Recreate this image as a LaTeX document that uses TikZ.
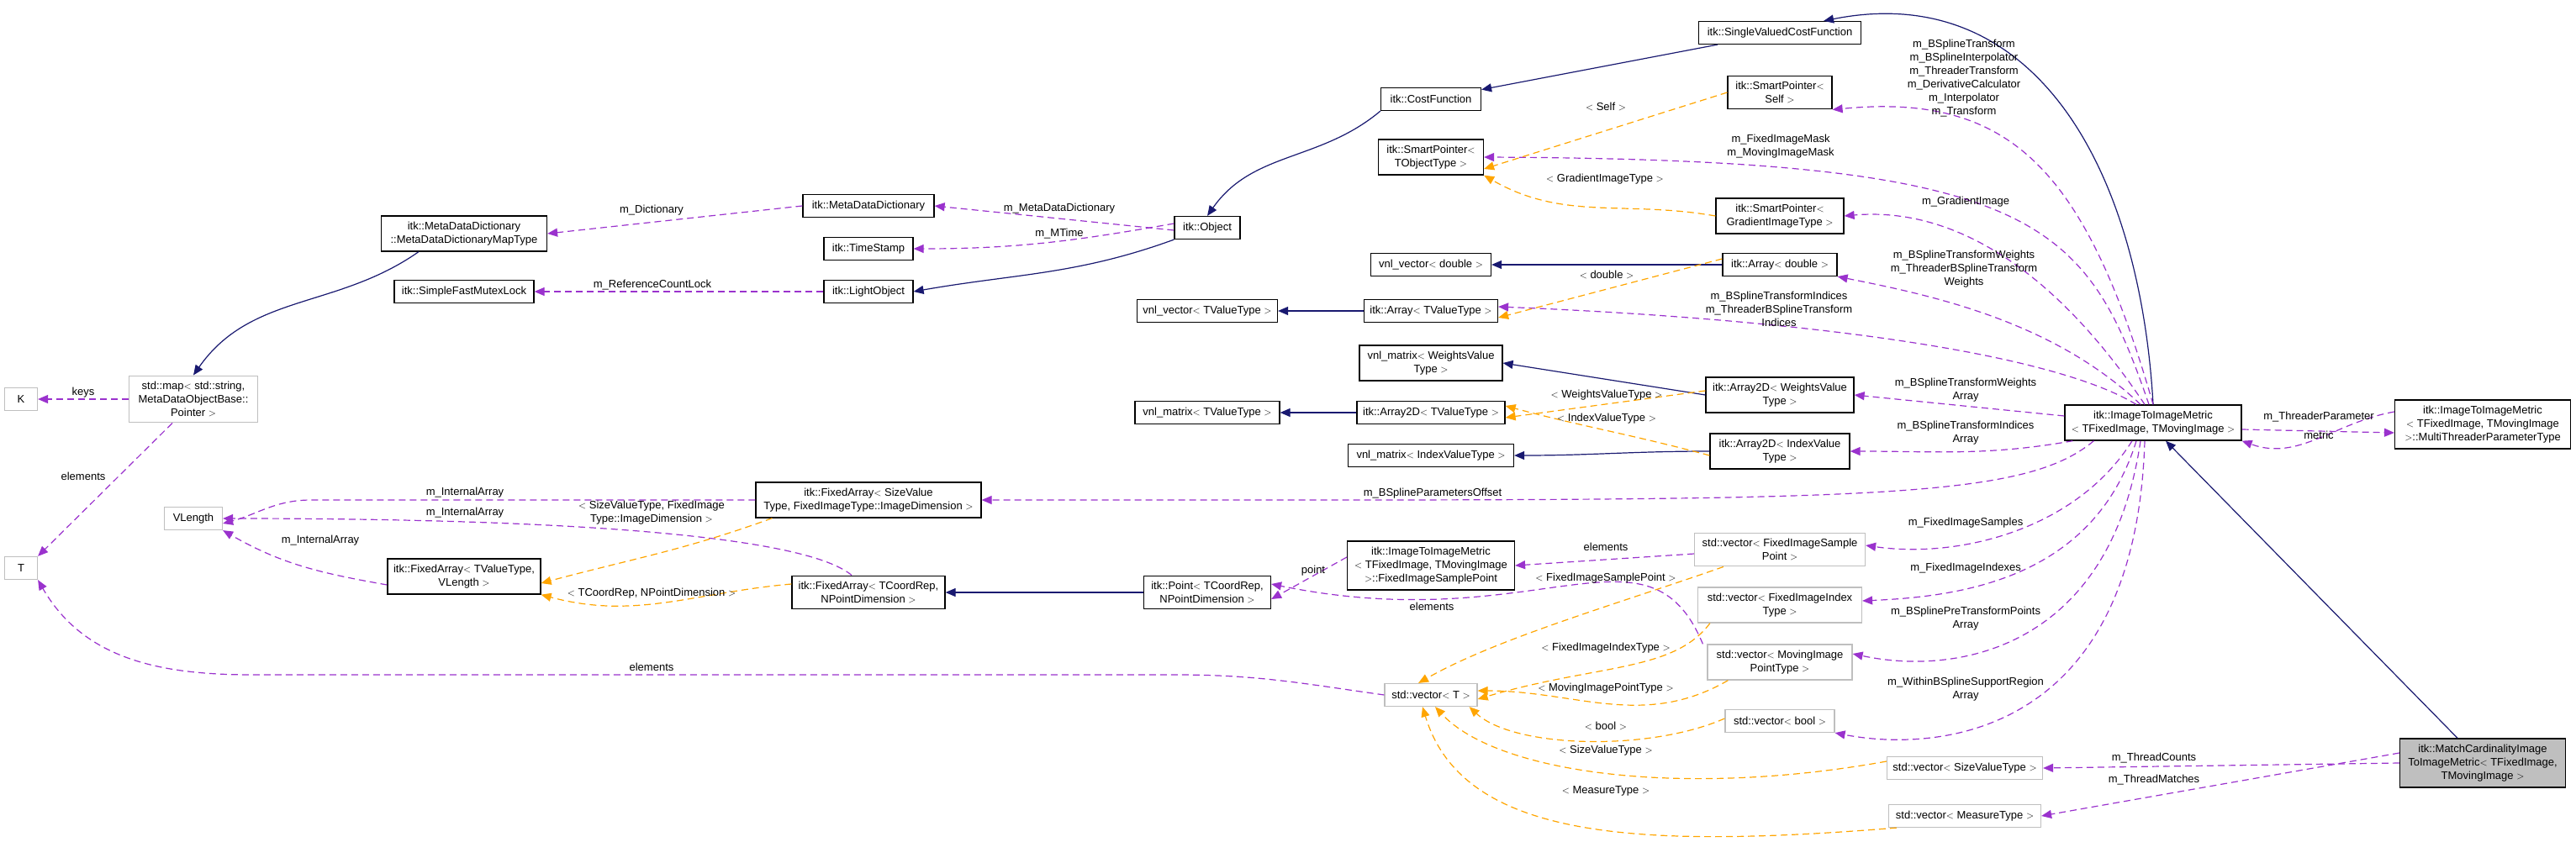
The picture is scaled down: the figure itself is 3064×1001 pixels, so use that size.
\documentclass[tikz,border=0pt]{standalone}
\usepackage{fontspec}
\setmainfont{Liberation Sans}
\usetikzlibrary{arrows.meta}
\definecolor{inhcol}{HTML}{191970}
\definecolor{usecol}{HTML}{9A32CD}
\definecolor{tplcol}{HTML}{FFA500}
\definecolor{extcol}{HTML}{BFBFBF}

\begin{document}
\begin{tikzpicture}[x=1pt,y=-1pt,
    font=\fontsize{13}{16}\selectfont,
    cls/.style={draw=black, line width=1.2pt, fill=white, align=center, inner xsep=4pt, inner ysep=7pt, minimum height=27pt},
    ext/.style={cls, draw=extcol},
    inh/.style={draw=inhcol, line width=1.2pt, -{Triangle[length=12pt,width=10pt]}},
    use/.style={draw=usecol, line width=1.2pt, dash pattern=on 8pt off 5pt, -{Triangle[length=12pt,width=10pt]}},
    tpl/.style={draw=tplcol, line width=1.2pt, dash pattern=on 8pt off 5pt, -{Triangle[length=12pt,width=10pt]}},
    lbl/.style={align=center, inner sep=0pt}]

    \useasboundingbox (0,0) rectangle (3064,1001);

    % left part
    \node[cls, minimum width=197pt] (mtype) at (552,278) {itk::MetaDataDictionary\\::MetaDataDictionaryMapType};
    \node[cls, minimum width=156pt] (mdd) at (1033,245) {itk::MetaDataDictionary};
    \node[cls, minimum width=106pt] (ts) at (1033,296) {itk::TimeStamp};
    \node[cls, minimum width=106pt] (light) at (1033,347) {itk::LightObject};
    \node[cls, minimum width=166pt] (mutex) at (552,347) {itk::SimpleFastMutexLock};
    \node[cls, minimum width=78pt] (obj) at (1436,271) {itk::Object};
    \node[cls, minimum width=167pt] (vvt) at (1436,370) {vnl\_vector$<$ TValueType $>$};
    \node[cls, minimum width=172pt] (vmt) at (1436,491) {vnl\_matrix$<$ TValueType $>$};
    \node[ext, minimum width=153pt] (map) at (230,475) {std::map$<$ std::string,\\MetaDataObjectBase::\\Pointer $>$};
    \node[ext, minimum width=39pt] (k) at (25,475) {K};
    \node[ext, minimum width=39pt] (t) at (25,676) {T};
    \node[ext, minimum width=69pt] (vlen) at (230,617) {VLength};
    \node[cls, minimum width=268pt] (fasz) at (1033,595) {itk::FixedArray$<$ SizeValue\\Type, FixedImageType::ImageDimension $>$};
    \node[cls, minimum width=182pt] (fatv) at (552,686) {itk::FixedArray$<$ TValueType,\\VLength $>$};
    \node[cls, minimum width=182pt] (facr) at (1033,705) {itk::FixedArray$<$ TCoordRep,\\NPointDimension $>$};
    \node[cls, minimum width=151pt] (pt) at (1436,705) {itk::Point$<$ TCoordRep,\\NPointDimension $>$};

    % right part
    \node[cls, minimum width=193pt] (svcf) at (2117,39) {itk::SingleValuedCostFunction};
    \node[cls, minimum width=119pt] (cost) at (1702,118) {itk::CostFunction};
    \node[cls, minimum width=124pt] (sps) at (2117,110) {itk::SmartPointer$<$\\Self $>$};
    \node[cls, minimum width=125pt] (spt) at (1702,187) {itk::SmartPointer$<$\\TObjectType $>$};
    \node[cls, minimum width=152pt] (spg) at (2117,257) {itk::SmartPointer$<$\\GradientImageType $>$};
    \node[cls, minimum width=143pt] (vvd) at (1702,315) {vnl\_vector$<$ double $>$};
    \node[cls, minimum width=136pt] (ad) at (2117,315) {itk::Array$<$ double $>$};
    \node[cls, minimum width=159pt] (atv) at (1702,370) {itk::Array$<$ TValueType $>$};
    \node[cls, minimum width=170pt] (vmw) at (1702,432) {vnl\_matrix$<$ WeightsValue\\Type $>$};
    \node[cls, minimum width=176pt] (a2w) at (2117,470) {itk::Array2D$<$ WeightsValue\\Type $>$};
    \node[cls, minimum width=176pt] (a2t) at (1702,491) {itk::Array2D$<$ TValueType $>$};
    \node[cls, minimum width=197pt] (vmi) at (1702,542) {vnl\_matrix$<$ IndexValueType $>$};
    \node[cls, minimum width=166pt] (a2i) at (2117,537) {itk::Array2D$<$ IndexValue\\Type $>$};
    \node[cls, minimum width=210pt] (met) at (2561,503) {itk::ImageToImageMetric\\$<$ TFixedImage, TMovingImage $>$};
    \node[cls, minimum width=209pt] (mtp) at (2953,505) {itk::ImageToImageMetric\\$<$ TFixedImage, TMovingImage\\$>$::MultiThreaderParameterType};
    \node[cls, minimum width=199pt] (fisp) at (1702,673) {itk::ImageToImageMetric\\$<$ TFixedImage, TMovingImage\\$>$::FixedImageSamplePoint};
    \node[ext, minimum width=203pt] (vsam) at (2117,654) {std::vector$<$ FixedImageSample\\Point $>$};
    \node[ext, minimum width=195pt] (vidx) at (2117,720) {std::vector$<$ FixedImageIndex\\Type $>$};
    \node[ext, minimum width=172pt] (vmov) at (2117,788) {std::vector$<$ MovingImage\\PointType $>$};
    \node[ext, minimum width=110pt] (vt) at (1702,827) {std::vector$<$ T $>$};
    \node[ext, minimum width=130pt] (vbool) at (2117,858) {std::vector$<$ bool $>$};
    \node[ext, minimum width=185pt] (vsize) at (2337,914) {std::vector$<$ SizeValueType $>$};
    \node[ext, minimum width=181pt] (vmeas) at (2337,971) {std::vector$<$ MeasureType $>$};
    \node[cls, fill=extcol, minimum width=197pt] (mc) at (2953,908) {itk::MatchCardinalityImage\\ToImageMetric$<$ TFixedImage,\\TMovingImage $>$};

    % inheritance
    \draw[inh] (svcf) -- (cost);
    \draw[inh] (cost.south west) to[out=-140,in=55] (obj.north);
    \draw[inh] (obj.south west) to[out=-160,in=10] (light.east);
    \draw[inh] (mtype.south west) ++(45,0) to[out=-145,in=55] (map.north);
    \draw[inh] (met.north) .. controls (2545,200) and (2420,-25) .. ([xshift=-45pt]svcf.north east);
    \draw[inh] ([xshift=-30pt]mc.north) -- ([xshift=15pt]met.south);
    \draw[inh] (atv) -- (vvt);
    \draw[inh] (ad) -- (vvd);
    \draw[inh] (a2w.west) -- (vmw.east);
    \draw[inh] (a2t) -- (vmt);
    \draw[inh] (a2i.west) to[out=180,in=0] (vmi.east);
    \draw[inh] (pt) -- (facr);

    % members
    \draw[use] (mdd.west) -- (mtype.east);
    \draw[use] ([yshift=-3pt]obj.west) -- (mdd.east);
    \draw[use] ([yshift=5pt]obj.west) to[out=190,in=0] (ts.east);
    \draw[use] (light.west) -- (mutex.east);
    \draw[use] (map.west) -- (k.east);
    \draw[use] ([xshift=-25pt]map.south) -- (t.north east);
    \draw[use] (fasz.west) -- (370,595) to[out=180,in=15] ([yshift=-6pt]vlen.east);
    \draw[use] ([xshift=-20pt]facr.north) .. controls (960,640) and (700,617) .. (vlen.east);
    \draw[use] ([yshift=-10pt]fatv.west) to[out=170,in=-30] (vlen.south east);
    \draw[use] (vt.west) to[out=172,in=0] (1400,803) -- (300,803) to[out=180,in=-60] (t.south east);
    \draw[use] (met.north) .. controls (2480,200) and (2390,110) .. (sps.south east);
    \draw[use] ([xshift=-5pt]met.north) .. controls (2480,260) and (2420,190) .. (spt.east);
    \draw[use] ([xshift=-10pt]met.north) .. controls (2450,330) and (2330,245) .. (spg.east);
    \draw[use] ([xshift=-15pt]met.north) .. controls (2440,380) and (2290,350) .. (ad.south east);
    \draw[use] ([xshift=-20pt]met.north) .. controls (2440,420) and (2150,380) .. ([yshift=5pt]atv.east);
    \draw[use] ([yshift=8pt]met.west) -- (a2w.east);
    \draw[use] ([xshift=10pt]met.south west) to[out=-170,in=0] (a2i.east);
    \draw[use] ([xshift=35pt]met.south west) .. controls (2400,600) and (2200,595) .. (fasz.east);
    \draw[use] ([xshift=-25pt]met.south) .. controls (2470,630) and (2330,665) .. ([yshift=5pt]vsam.east);
    \draw[use] ([xshift=-20pt]met.south) .. controls (2490,690) and (2330,710) .. ([yshift=5pt]vidx.east);
    \draw[use] ([xshift=-15pt]met.south) .. controls (2510,770) and (2330,805) .. ([yshift=10pt]vmov.east);
    \draw[use] ([xshift=-10pt]met.south) .. controls (2540,880) and (2300,895) .. (vbool.south east);
    \draw[use] ([yshift=-8pt]met.east) -- ([yshift=-10pt]mtp.west);
    \draw[use] ([yshift=15pt]mtp.west) to[out=190,in=-20] (met.south east);
    \draw[use] ([yshift=-5pt]vsam.west) -- (fisp.east);
    \draw[use] ([yshift=10pt]fisp.west) -- ([yshift=-8pt]pt.east);
    \draw[use] ([xshift=-5pt]vmov.north west) .. controls (1960,610) and (1830,760) .. ([yshift=10pt]pt.east);
    \draw[use] (mc.west) -- (vsize.east);
    \draw[use] ([yshift=12pt]mc.west) to[out=190,in=10] (vmeas.east);

    % templates
    \draw[tpl] (sps.west) -- ([yshift=-14pt]spt.east);
    \draw[tpl] (spg.west) to[out=170,in=-30] (spt.south east);
    \draw[tpl] ([yshift=7pt]ad.west) -- ([yshift=-8pt]atv.east);
    \draw[tpl] ([yshift=5pt]a2w.west) -- ([yshift=-6pt]a2t.east);
    \draw[tpl] ([yshift=-5pt]a2i.west) to[out=165,in=-15] ([yshift=8pt]a2t.east);
    \draw[tpl] ([xshift=20pt]fasz.south west) to[out=-160,in=15] ([yshift=-8pt]fatv.east);
    \draw[tpl] ([yshift=10pt]facr.west) to[out=185,in=-15] (fatv.south east);
    \draw[tpl] ([xshift=35pt]vsam.south west) .. controls (1920,720) and (1780,760) .. ([xshift=-15pt]vt.north);
    \draw[tpl] ([xshift=15pt]vidx.south west) .. controls (1990,800) and (1900,790) .. ([yshift=-5pt]vt.east);
    \draw[tpl] ([xshift=25pt]vmov.south west) to[out=-150,in=0] ([yshift=5pt]vt.east);
    \draw[tpl] ([yshift=3pt]vbool.west) .. controls (1960,895) and (1800,890) .. ([xshift=-10pt]vt.south east);
    \draw[tpl] ([yshift=8pt]vsize.west) .. controls (2000,950) and (1780,920) .. ([xshift=5pt]vt.south);
    \draw[tpl] ([xshift=10pt]vmeas.south west) .. controls (1950,1010) and (1740,1000) .. ([xshift=-10pt]vt.south);

    % edge labels
    \node[lbl] (l1) at (775,250) {m\_Dictionary};
    \node[lbl] (l2) at (1260,248) {m\_MetaDataDictionary};
    \node[lbl] (l3) at (1260,278) {m\_MTime};
    \node[lbl] (l4) at (776,339) {m\_ReferenceCountLock};
    \node[lbl] (l5) at (99,467) {keys};
    \node[lbl] (l6) at (99,567) {elements};
    \node[lbl] (l7) at (553,586) {m\_InternalArray};
    \node[lbl] (l8) at (553,610) {m\_InternalArray};
    \node[lbl] (l9) at (381,643) {m\_InternalArray};
    \node[lbl] (l10) at (775,794) {elements};
    \node[lbl] (l11) at (2336,93) {m\_BSplineTransform\\m\_BSplineInterpolator\\m\_ThreaderTransform\\m\_DerivativeCalculator\\m\_Interpolator\\m\_Transform};
    \node[lbl] (l12) at (2118,174) {m\_FixedImageMask\\m\_MovingImageMask};
    \node[lbl] (l13) at (2338,240) {m\_GradientImage};
    \node[lbl] (l14) at (2336,320) {m\_BSplineTransformWeights\\m\_ThreaderBSplineTransform\\Weights};
    \node[lbl] (l15) at (2116,368) {m\_BSplineTransformIndices\\m\_ThreaderBSplineTransform\\Indices};
    \node[lbl] (l16) at (2338,464) {m\_BSplineTransformWeights\\Array};
    \node[lbl] (l17) at (2338,515) {m\_BSplineTransformIndices\\Array};
    \node[lbl] (l18) at (1704,587) {m\_BSplineParametersOffset};
    \node[lbl] (l19) at (2338,622) {m\_FixedImageSamples};
    \node[lbl] (l20) at (2338,676) {m\_FixedImageIndexes};
    \node[lbl] (l21) at (2338,736) {m\_BSplinePreTransformPoints\\Array};
    \node[lbl] (l22) at (2338,820) {m\_WithinBSplineSupportRegion\\Array};
    \node[lbl] (l23) at (2758,496) {m\_ThreaderParameter};
    \node[lbl] (l24) at (2758,518) {metric};
    \node[lbl] (l25) at (1910,651) {elements};
    \node[lbl] (l26) at (1562,679) {point};
    \node[lbl] (l27) at (1703,722) {elements};
    \node[lbl] (l28) at (2562,902) {m\_ThreadCounts};
    \node[lbl] (l29) at (2562,928) {m\_ThreadMatches};
    \node[lbl] (t1) at (1910,127) {$<$ Self $>$};
    \node[lbl] (t2) at (1909,213) {$<$ GradientImageType $>$};
    \node[lbl] (t3) at (1911,327) {$<$ double $>$};
    \node[lbl] (t4) at (1911,470) {$<$ WeightsValueType $>$};
    \node[lbl] (t5) at (1911,498) {$<$ IndexValueType $>$};
    \node[lbl] (t6) at (775,610) {$<$ SizeValueType, FixedImage\\Type::ImageDimension $>$};
    \node[lbl] (t7) at (775,706) {$<$ TCoordRep, NPointDimension $>$};
    \node[lbl] (t8) at (1910,688) {$<$ FixedImageSamplePoint $>$};
    \node[lbl] (t9) at (1910,771) {$<$ FixedImageIndexType $>$};
    \node[lbl] (t10) at (1910,819) {$<$ MovingImagePointType $>$};
    \node[lbl] (t11) at (1910,864) {$<$ bool $>$};
    \node[lbl] (t12) at (1910,893) {$<$ SizeValueType $>$};
    \node[lbl] (t13) at (1910,941) {$<$ MeasureType $>$};
\end{tikzpicture}
\end{document}
